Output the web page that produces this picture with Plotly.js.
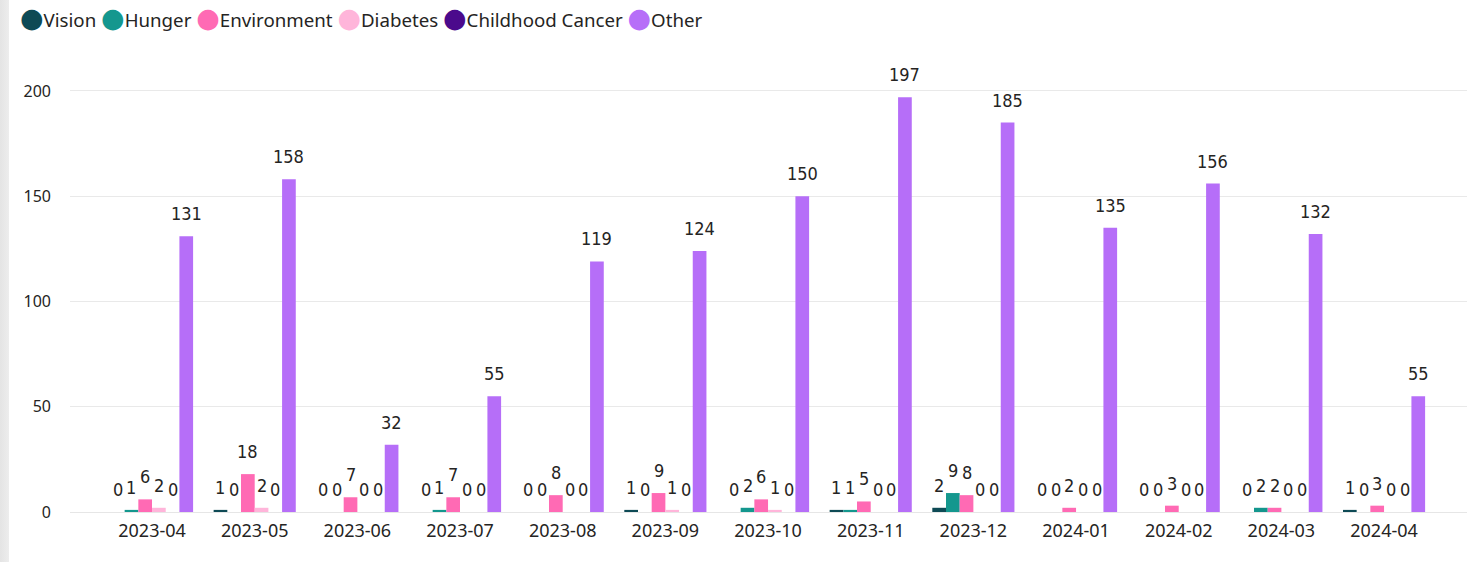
<!DOCTYPE html>
<html>
<head>
<meta charset="utf-8">
<script src="https://cdn.plot.ly/plotly-3.0.1.min.js"></script>
<style>
  html, body { margin: 0; padding: 0; background: #ffffff; }
  #chart { width: 1472px; height: 562px; }
  #strip { position: absolute; left: 0; top: 0; width: 9px; height: 562px;
           background: linear-gradient(to right, #e4e4e4, #ededed); z-index: 5; }
</style>
</head>
<body>
<div id="strip"></div>
<div id="chart"></div>
<script>
// ---- data ----
const months = ['2023-04','2023-05','2023-06','2023-07','2023-08','2023-09','2023-10','2023-11','2023-12','2024-01','2024-02','2024-03','2024-04'];
const seriesNames = ['Vision','Hunger','Environment','Diabetes','Childhood Cancer','Other'];
const vision          = [0, 1, 0, 0, 0, 1, 0, 1, 2, 0, 0, 0, 1];
const hunger          = [1, 0, 0, 1, 0, 0, 2, 1, 9, 0, 0, 2, 0];
const environment     = [6, 18, 7, 7, 8, 9, 6, 5, 8, 2, 3, 2, 3];
const diabetes        = [2, 2, 0, 0, 0, 1, 1, 0, 0, 0, 0, 0, 0];
const childhoodCancer = [0, 0, 0, 0, 0, 0, 0, 0, 0, 0, 0, 0, 0];
const other           = [131, 158, 32, 55, 119, 124, 150, 197, 185, 135, 156, 132, 55];
const yTicks = [0, 50, 100, 150, 200];

// ---- styles ----
const colors = ['#0E4A55', '#14978E', '#FF6AB4', '#FFB5DA', '#4B0A8C', '#B66EF8'];
const seriesValues = [vision, hunger, environment, diabetes, childhoodCancer, other];

const W = 1472, H = 562;
const margin = {l: 70, r: 5, t: 52, b: 50};
const xRange = [-0.799, 12.808];
const yRange = [0, 218.5];
const bargap = 0.2;

const uiFont = '"Segoe UI", "Noto Sans", "Open Sans", sans-serif';
const labelFont = '"DejaVu Sans Condensed", "Liberation Sans Narrow", "DejaVu Sans", sans-serif';
const textColor = '#252423';

const traces = seriesNames.map((name, k) => ({
  type: 'bar',
  name: name,
  x: months,
  y: seriesValues[k],
  marker: {color: colors[k], line: {width: 0}},
  hoverinfo: 'x+y+name'
}));

// data labels as annotations, offset to each bar of the group
const plotW = W - margin.l - margin.r;
const catPx = plotW / (xRange[1] - xRange[0]);
const barPx = catPx * (1 - bargap) / seriesNames.length;
const annotations = [];
seriesValues.forEach((vals, k) => {
  vals.forEach((v, i) => {
    annotations.push({
      x: months[i], y: v, xref: 'x', yref: 'y',
      text: String(v), showarrow: false,
      xanchor: 'center', yanchor: 'bottom',
      xshift: (k - (seriesNames.length - 1) / 2) * barPx,
      yshift: 10,
      font: {family: labelFont, size: 18, color: textColor}
    });
  });
});

// legend drawn as one line of text with coloured dots
const legendText = seriesNames.map((n, k) =>
  '<span style="color:' + colors[k] + ';font-size:27px;font-family:DejaVu Sans">●</span>' + n
).join(' ');
const plotH = H - margin.t - margin.b;
annotations.push({
  xref: 'paper', yref: 'paper',
  x: (18 - margin.l) / plotW, y: (H - margin.b - 18) / plotH,
  xanchor: 'left', yanchor: 'middle',
  text: legendText, showarrow: false,
  font: {family: uiFont, size: 18.7, color: textColor}
});

const layout = {
  width: W, height: H,
  margin: margin,
  paper_bgcolor: '#ffffff', plot_bgcolor: '#ffffff',
  barmode: 'group', bargap: bargap, bargroupgap: 0,
  showlegend: false,
  xaxis: {
    type: 'category', range: xRange, showgrid: false, zeroline: false,
    showline: false, ticks: '', ticklabelstandoff: 6,
    tickfont: {family: uiFont, size: 18, color: textColor}
  },
  yaxis: {
    range: yRange, tickvals: yTicks, showgrid: true, gridcolor: '#E9E9E9', gridwidth: 1,
    zeroline: true, zerolinecolor: '#E6E6E6', zerolinewidth: 1, showline: false,
    ticks: '', ticklabelstandoff: 18,
    tickfont: {family: uiFont, size: 16, color: textColor}
  },
  annotations: annotations,
  hovermode: 'closest'
};

Plotly.newPlot('chart', traces, layout, {displayModeBar: false, staticPlot: true});
</script>
</body>
</html>
